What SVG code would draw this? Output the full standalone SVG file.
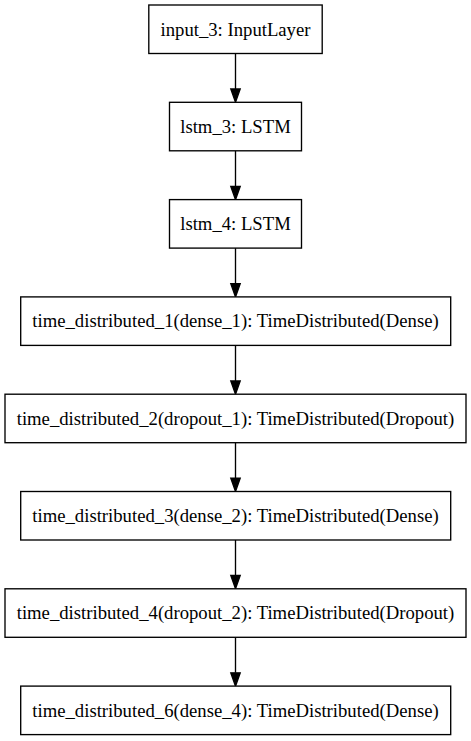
<svg xmlns="http://www.w3.org/2000/svg" width="471" height="741" viewBox="0 0 471 741">
<style>
.box{fill:#fff;stroke:#000;stroke-width:1.35}
.lbl{font-family:"Liberation Serif","Times New Roman",serif;font-size:18.7px;fill:#000;text-anchor:middle}
.edge{stroke:#000;stroke-width:1.35;fill:none}
.head{fill:#000;stroke:#000;stroke-width:1.35}
</style>
<rect width="471" height="741" fill="#fff"/>
<g id="connectors">
<line class="edge" x1="235.5" y1="53.5" x2="235.5" y2="89"/>
<polygon class="head" points="230.8,89 240.2,89 235.5,102.3"/>
<line class="edge" x1="235.5" y1="150.8" x2="235.5" y2="186.3"/>
<polygon class="head" points="230.8,186.3 240.2,186.3 235.5,199.6"/>
<line class="edge" x1="235.5" y1="248.1" x2="235.5" y2="283.6"/>
<polygon class="head" points="230.8,283.6 240.2,283.6 235.5,296.9"/>
<line class="edge" x1="235.5" y1="345.4" x2="235.5" y2="380.9"/>
<polygon class="head" points="230.8,380.9 240.2,380.9 235.5,394.2"/>
<line class="edge" x1="235.5" y1="442.7" x2="235.5" y2="478.2"/>
<polygon class="head" points="230.8,478.2 240.2,478.2 235.5,491.5"/>
<line class="edge" x1="235.5" y1="540" x2="235.5" y2="575.5"/>
<polygon class="head" points="230.8,575.5 240.2,575.5 235.5,588.8"/>
<line class="edge" x1="235.5" y1="637.3" x2="235.5" y2="672.8"/>
<polygon class="head" points="230.8,672.8 240.2,672.8 235.5,686.1"/>
</g>
<g id="input_3">
<rect class="box" x="148.8" y="5" width="173.4" height="48.5"/>
<text class="lbl" x="235.5" y="35.5">input_3: InputLayer</text>
</g>
<g id="lstm_3">
<rect class="box" x="169.5" y="102.3" width="132" height="48.5"/>
<text class="lbl" x="235.5" y="132.8">lstm_3: LSTM</text>
</g>
<g id="lstm_4">
<rect class="box" x="169.5" y="199.6" width="132" height="48.5"/>
<text class="lbl" x="235.5" y="230.1">lstm_4: LSTM</text>
</g>
<g id="time_distributed_1">
<rect class="box" x="20.7" y="296.9" width="430" height="48.5"/>
<text class="lbl" x="235.5" y="327.4">time_distributed_1(dense_1): TimeDistributed(Dense)</text>
</g>
<g id="time_distributed_2">
<rect class="box" x="5" y="394.2" width="461" height="48.5"/>
<text class="lbl" x="235.5" y="424.7">time_distributed_2(dropout_1): TimeDistributed(Dropout)</text>
</g>
<g id="time_distributed_3">
<rect class="box" x="20.7" y="491.5" width="430" height="48.5"/>
<text class="lbl" x="235.5" y="522">time_distributed_3(dense_2): TimeDistributed(Dense)</text>
</g>
<g id="time_distributed_4">
<rect class="box" x="5" y="588.8" width="461" height="48.5"/>
<text class="lbl" x="235.5" y="619.3">time_distributed_4(dropout_2): TimeDistributed(Dropout)</text>
</g>
<g id="time_distributed_6">
<rect class="box" x="20.7" y="686.1" width="430" height="48.5"/>
<text class="lbl" x="235.5" y="716.6">time_distributed_6(dense_4): TimeDistributed(Dense)</text>
</g>
</svg>
